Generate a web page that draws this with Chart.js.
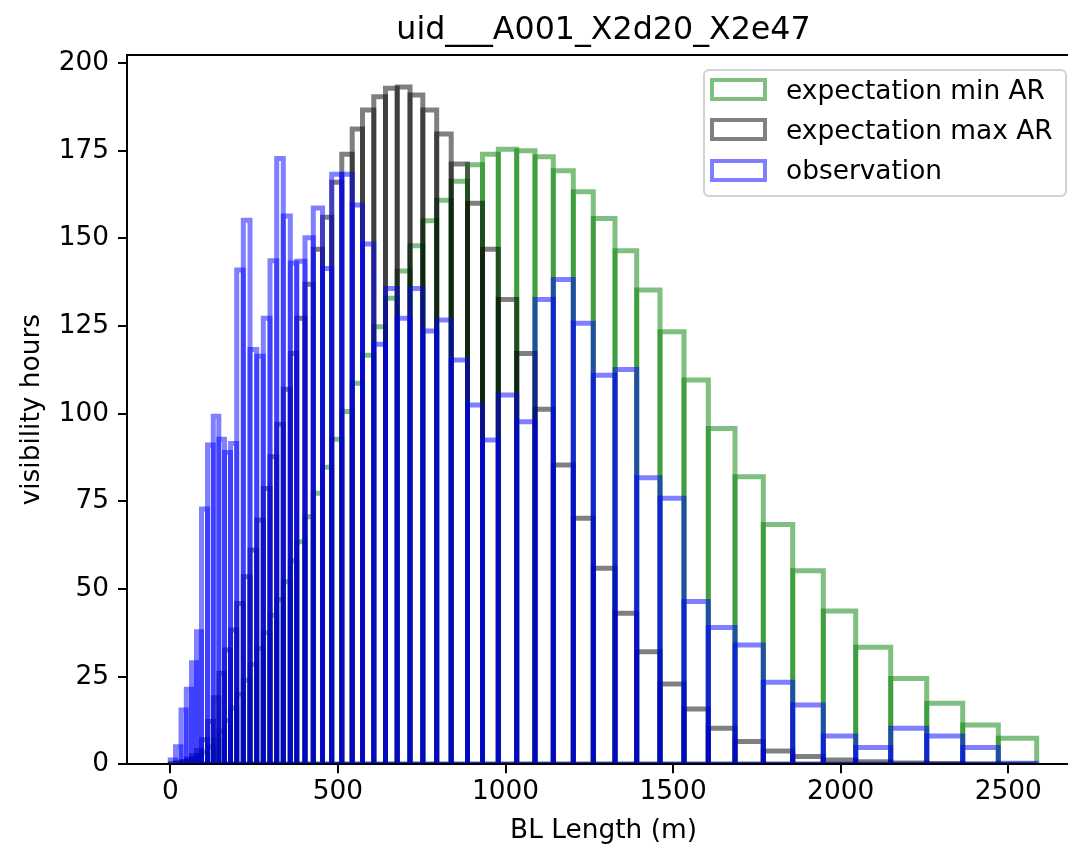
<!DOCTYPE html>
<html>
<head>
<meta charset="utf-8">
<script src="https://cdn.jsdelivr.net/npm/chart.js@4.4.0/dist/chart.umd.min.js"></script>
<style>
html, body { margin: 0; padding: 0; background: #fff; overflow: hidden; width: 1068px; height: 845px; }
#wrap { position: absolute; left: 0; top: 0; width: 1200px; height: 845px; }
#legend { position: absolute; left: 703px; top: 69px; width: 364px; height: 128px; box-sizing: border-box;
  border: 2.5px solid #d2d2d2; border-radius: 6px; background: rgba(255,255,255,0.8);
  font-family: "DejaVu Sans"; font-size: 26.4px; color: #000; }
.swatch { position: absolute; left: 4.5px; width: 57px; height: 23px; box-sizing: border-box; border: 4px solid; background: #fff; }
.label { position: absolute; left: 81px; height: 30px; line-height: 30px; white-space: nowrap; }
</style>
</head>
<body>
<div id="wrap"><canvas id="grafico" width="1200" height="845"></canvas></div>
<div id="legend"></div>
<script>
// bordes de los bins (m), compartidos por los tres histogramas
const binEdges = [0, 15.5, 31.9, 47.7, 63.2, 78.2, 93.1, 111.0, 128.3, 144.7, 161.7, 179.6, 198.1, 217.8,
  237.8, 257.8, 277.4, 297.4, 317.4, 337.1, 358.0, 377.1, 401.8, 426.6, 454.1, 481.5, 511.6, 542.7,
  573.4, 607.1, 642.0, 676.9, 715.1, 753.3, 794.7, 838.0, 886.6, 931.4, 978.5, 1033.4, 1088.0, 1142.6,
  1202.3, 1261.9, 1326.7, 1391.4, 1460.9, 1532.5, 1605.0, 1684.7, 1769.1, 1856.8, 1948.1, 2044.7,
  2149.2, 2256.6, 2364.0, 2470.2, 2584.7];

const minArHours = [0.1, 0.3, 0.6, 1.0, 1.6, 2.4, 3.5, 5.0, 7.0, 9.5, 12.5, 16.0, 20.0, 24.0, 28.5, 33.0,
  37.5, 42.5, 47.0, 52.1, 58.0, 63.5, 70.6, 77.3, 84.7, 92.7, 100.6, 108.7, 116.7, 124.8, 132.9, 140.7,
  147.9, 155.0, 160.9, 166.3, 171.0, 174.0, 175.4, 175.0, 173.3, 169.3, 163.3, 155.7, 146.5, 135.3,
  123.4, 109.6, 95.8, 82.0, 68.4, 55.2, 43.7, 33.4, 24.5, 17.4, 11.2, 7.4];

const maxArHours = [0.1, 0.4, 0.8, 1.5, 2.5, 4.0, 7.0, 12.2, 19.0, 26.0, 32.6, 38.3, 45.9, 53.5, 61.1, 69.7,
  78.7, 87.7, 97.0, 107.0, 117.2, 127.2, 136.9, 146.9, 156.0, 166.0, 174.0, 181.2, 186.6, 190.4, 192.8,
  193.2, 190.9, 186.6, 179.8, 171.2, 160.0, 146.9, 132.6, 117.2, 101.3, 85.4, 70.2, 55.9, 43.1, 32.1,
  22.9, 15.8, 10.3, 6.5, 3.8, 2.2, 1.2, 0.7, 0.4, 0.2, 0.1, 0.0];

const obsHours = [1.2, 5.0, 15.5, 21.4, 29.0, 37.8, 72.8, 91.1, 99.3, 92.7, 88.9, 91.5, 141.0, 155.2, 118.3,
  116.4, 127.2, 143.6, 172.8, 156.4, 143.0, 143.5, 150.2, 158.7, 141.4, 168.3, 168.3, 159.5, 148.4, 119.8,
  135.7, 127.2, 135.7, 123.6, 126.7, 115.3, 102.5, 92.5, 105.3, 97.7, 132.6, 138.3, 125.8, 111.0, 112.6,
  81.7, 75.9, 46.4, 39.0, 34.0, 23.4, 16.9, 8.1, 4.8, 10.3, 8.1, 4.8, 0.3];

const xTickValues = [0, 500, 1000, 1500, 2000, 2500];
const yTickValues = [0, 25, 50, 75, 100, 125, 150, 175, 200];
const seriesLabels = ["expectation min AR", "expectation max AR", "observation"];
const seriesColors = ["rgba(0,128,0,0.5)", "rgba(0,0,0,0.5)", "rgba(0,0,255,0.5)"];

const fuente = "DejaVu Sans";

// cada bin es un rectángulo sin relleno, un dataset por rectángulo (como los patches de matplotlib)
function rectangulos(valores, color) {
    return valores.map((h, i) => {
        const l = binEdges[i], r = binEdges[i + 1];
        return {
            data: [{x: l, y: 0}, {x: l, y: h}, {x: r, y: h}, {x: r, y: 0}, {x: l, y: 0}],
            showLine: true,
            fill: false,
            borderColor: color,
            borderWidth: 5,
            borderJoinStyle: "miter",
            borderCapStyle: "butt",
            pointRadius: 0,
            tension: 0,
            clip: 0
        };
    });
}

// Chart.js pinta el último dataset primero: observación queda encima
const datasets = [
    ...rectangulos(obsHours, seriesColors[2]),
    ...rectangulos(maxArHours, seriesColors[1]),
    ...rectangulos(minArHours, seriesColors[0])
];

const ejeTicks = (valores) => (axis) => { axis.ticks = valores.map(v => ({value: v})); };
const sinComas = (v) => String(v);

new Chart(document.getElementById("grafico"), {
    type: "scatter",
    data: { datasets: datasets },
    options: {
        responsive: false,
        animation: false,
        events: [],
        // el área sigue más allá del borde derecho de la ventana, como la figura original recortada
        layout: { padding: { left: 0, right: 120, top: 0, bottom: 0 } },
        plugins: {
            legend: { display: false },
            tooltip: { enabled: false },
            title: {
                display: true,
                fullSize: false,
                text: "uid___A001_X2d20_X2e47",
                color: "#000",
                font: { family: fuente, size: 31.7, weight: "normal" },
                padding: { top: 12, bottom: 5 }
            }
        },
        scales: {
            x: {
                type: "linear",
                position: "bottom",
                min: -129.2,
                max: 2713.9,
                afterBuildTicks: ejeTicks(xTickValues),
                afterFit: (axis) => { axis.height = 80.7; },
                ticks: { color: "#000", font: { family: fuente, size: 26.4 }, padding: 3, maxRotation: 0, autoSkip: false, callback: sinComas },
                grid: { drawOnChartArea: false, drawTicks: true, tickLength: 9, tickWidth: 2, tickColor: "#000", lineWidth: 2 },
                border: { display: true, color: "#000", width: 2, z: 1 },
                title: { display: true, text: "BL Length (m)", color: "#000", font: { family: fuente, size: 26.4 }, padding: { top: 0, bottom: -2 } }
            },
            x2: {
                type: "linear",
                position: "top",
                min: -129.2,
                max: 2713.9,
                afterFit: (axis) => { axis.height = 0; },
                ticks: { display: false },
                grid: { drawOnChartArea: false, drawTicks: false },
                border: { display: true, color: "#000", width: 2, z: 1 }
            },
            y: {
                type: "linear",
                min: 0,
                max: 202.3,
                afterBuildTicks: ejeTicks(yTickValues),
                afterFit: (axis) => { axis.width = 127; },
                ticks: { color: "#000", font: { family: fuente, size: 26.4 }, padding: 9, callback: sinComas },
                grid: { drawOnChartArea: false, drawTicks: true, tickLength: 9, tickWidth: 2, tickColor: "#000", lineWidth: 2 },
                border: { display: true, color: "#000", width: 2, z: 1 },
                title: { display: true, text: "visibility hours", color: "#000", font: { family: fuente, size: 26.4 }, padding: { top: 16, bottom: 0 } }
            }
        }
    }
});

// leyenda como texto HTML, dentro del área del gráfico arriba a la derecha
const leyenda = document.getElementById("legend");
const centros = [18.5, 58.8, 99.2];
seriesLabels.forEach((texto, i) => {
    const caja = document.createElement("div");
    caja.className = "swatch";
    caja.style.top = (centros[i] - 11.5) + "px";
    caja.style.borderColor = seriesColors[i];
    leyenda.appendChild(caja);
    const etiqueta = document.createElement("div");
    etiqueta.className = "label";
    etiqueta.style.top = (centros[i] - 15) + "px";
    etiqueta.textContent = texto;
    leyenda.appendChild(etiqueta);
});
</script>
</body>
</html>
